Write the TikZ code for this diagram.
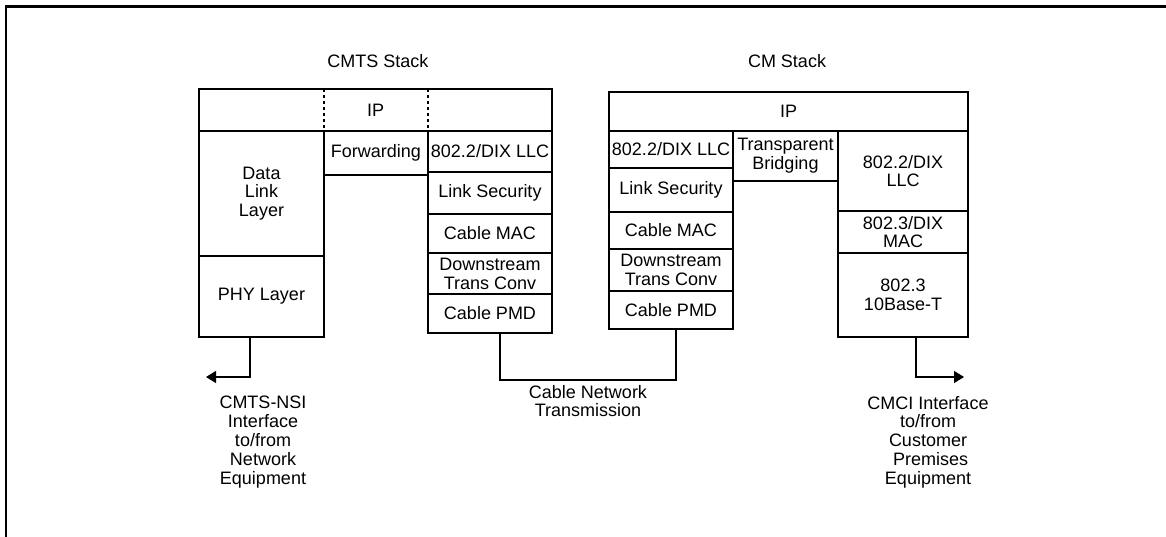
\documentclass[tikz,border=0pt]{standalone}
\usepackage{fontspec}
\setmainfont{Liberation Sans}
\usetikzlibrary{arrows.meta}

\tikzset{
  layerbox/.style={draw, line width=1.3pt, inner sep=0pt, outer sep=0pt, align=center},
  sepline/.style={line width=1.3pt, dash pattern=on 3pt off 3pt},
  wire/.style={line width=1.3pt},
  arrowwire/.style={wire, -{Triangle[length=10pt,width=12pt]}},
  notetext/.style={inner sep=0pt, align=center},
  frameline/.style={line width=2.2pt}
}

% \stackbox{name}{x1}{y1}{x2}{y2}{text}: one layer of a protocol stack
\newcommand\stackbox[6]{%
  \node[layerbox, minimum width={#4pt-#2pt}, minimum height={#5pt-#3pt}]
    (#1) at ({(#2+#4)/2},{(#3+#5)/2}) {#6};}

\begin{document}
\begin{tikzpicture}[x=1pt, y=-1pt, font=\fontsize{18}{18.8}\selectfont]
\useasboundingbox (0,0) rectangle (1166,536);

% page frame
\draw[frameline] (6,537) -- (6,6.5) -- (1167,6.5);

% ---------- CMTS stack ----------
\node[notetext] (cmtstitle) at (378,61) {CMTS Stack};
\stackbox{ipA}{199}{89}{552}{131}{IP}
\draw[sepline] (324,89) -- (324,131);
\draw[sepline] (428,89) -- (428,131);
\stackbox{dll}{199}{131}{324}{256}{Data\\Link\\Layer}
\stackbox{phy}{199}{256}{324}{337}{PHY Layer}
\stackbox{fwd}{324}{131}{428}{175}{Forwarding}
\stackbox{llcA}{428}{131}{552}{172}{802.2/DIX LLC}
\stackbox{secA}{428}{172}{552}{214}{Link Security}
\stackbox{macA}{428}{214}{552}{253}{Cable MAC}
\stackbox{tcA}{428}{253}{552}{294}{Downstream\\Trans Conv}
\stackbox{pmdA}{428}{294}{552}{333}{Cable PMD}

% ---------- CM stack ----------
\node[notetext] (cmtitle) at (787,61) {CM Stack};
\stackbox{ipB}{609}{92}{968}{131}{IP}
\stackbox{llcB}{609}{131}{733}{168}{802.2/DIX LLC}
\stackbox{secB}{609}{168}{733}{212}{Link Security}
\stackbox{macB}{609}{212}{733}{249}{Cable MAC}
\stackbox{tcB}{609}{249}{733}{291}{Downstream\\Trans Conv}
\stackbox{pmdB}{609}{291}{733}{329}{Cable PMD}
\stackbox{brg}{733}{131}{838}{181}{Transparent\\Bridging}
\stackbox{llcC}{838}{131}{968}{211}{802.2/DIX\\LLC}
\stackbox{macC}{838}{211}{968}{253}{802.3/DIX\\MAC}
\stackbox{phyC}{838}{253}{968}{337}{802.3\\10Base-T}

% ---------- interfaces ----------
\coordinate (nsiend) at (206,377);
\coordinate (cmciend) at (964,377);
\draw[arrowwire] ([xshift=-11.5pt]phy.south) |- (nsiend);
\draw[arrowwire] ([xshift=13pt]phyC.south) |- (cmciend);
\draw[wire] ([xshift=10pt]pmdA.south) -- ++(0,47) -| ([xshift=5pt]pmdB.south);

\node[notetext] (nsitext) at (263,442)
  {CMTS-NSI\\Interface\\to/from\\Network\\Equipment};
\node[notetext] (cabletext) at (588,401) {Cable Network\\Transmission};
\node[notetext] (cmcitext) at (928,442)
  {CMCI Interface\\to/from\\Customer\\\hspace*{5pt}Premises\\Equipment};
\end{tikzpicture}
\end{document}
